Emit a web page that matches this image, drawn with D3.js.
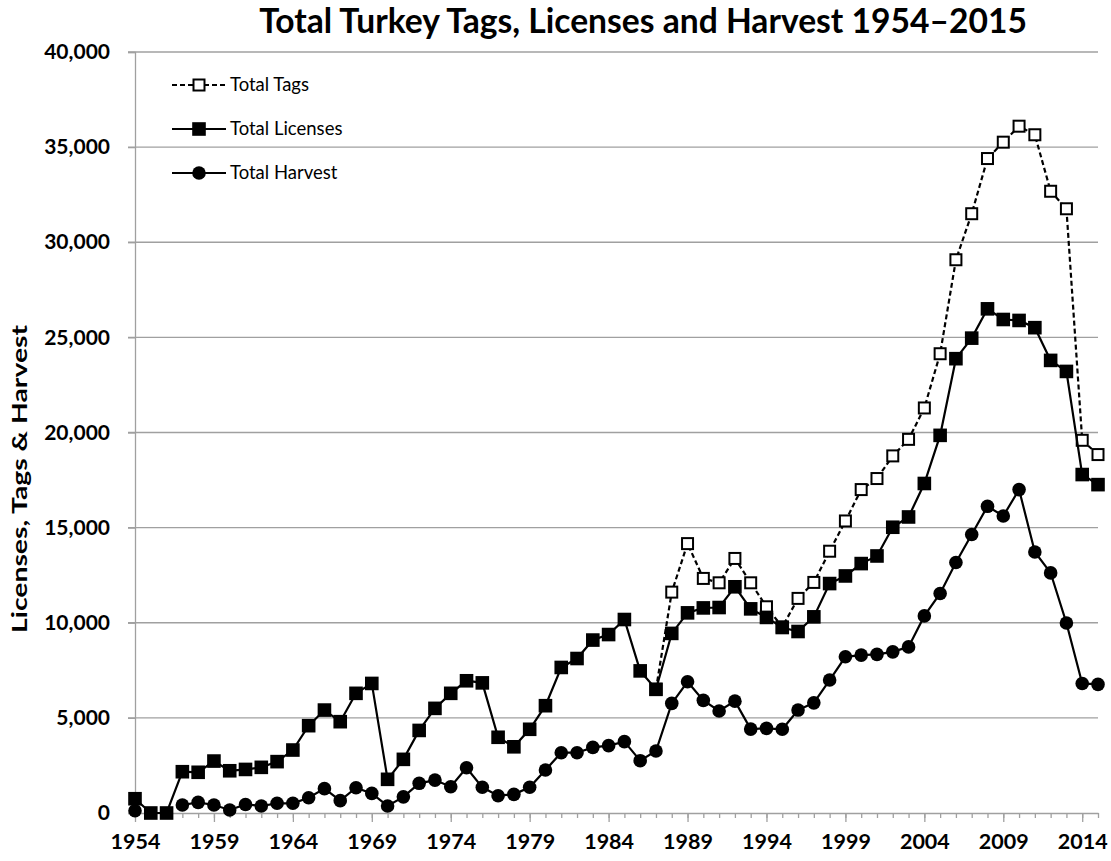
<!DOCTYPE html>
<html>
<head>
<meta charset="utf-8">
<script src="https://cdn.jsdelivr.net/npm/d3@7"></script>
<style>
  body { margin: 0; background: #fff; }
  text { font-family: Lato, "Open Sans", sans-serif; fill: #000; }
</style>
</head>
<body>
<div id="chart"></div>
<script>
const years = d3.range(1954, 2016);

const tags = [
  null, null, null, null, null, null, null, null, null, null,
  null, null, null, null, null, null, null, null, null, null,
  null, null, null, null, null, null, null, null, null, null,
  null, null, null, 6500, 11610, 14160, 12330, 12100, 13380, 12100,
  10840, 9780, 11280, 12120, 13760, 15350, 17000, 17580, 18770, 19640,
  21290, 24140, 29080, 31500, 34400, 35260, 36100, 35650, 32680, 31760,
  19590, 18840
];

const licenses = [
  750, 0, 0, 2170, 2140, 2730, 2220, 2290, 2400, 2700,
  3310, 4590, 5410, 4800, 6290, 6810, 1770, 2820, 4340, 5500,
  6290, 6950, 6840, 3980, 3480, 4400, 5640, 7650, 8120, 9090,
  9380, 10170, 7470, 6500, 9440, 10520, 10780, 10800, 11890, 10730,
  10280, 9750, 9540, 10310, 12060, 12460, 13110, 13510, 15020, 15560,
  17320, 19850, 23880, 24960, 26500, 25940, 25890, 25510, 23790, 23210,
  17790, 17260
];

const harvest = [
  120, null, null, 420, 560, 420, 160, 450, 370, 510,
  510, 800, 1280, 650, 1330, 1030, 370, 850, 1560, 1730,
  1380, 2380, 1350, 910, 980, 1350, 2260, 3170, 3170, 3450,
  3540, 3750, 2750, 3260, 5760, 6900, 5920, 5360, 5880, 4410,
  4450, 4400, 5410, 5790, 6990, 8210, 8300, 8340, 8470, 8730,
  10360, 11540, 13170, 14640, 16120, 15610, 17000, 13720, 12620, 9990,
  6810, 6760
];

const xTickLabels = [1954, 1959, 1964, 1969, 1974, 1979, 1984, 1989, 1994, 1999, 2004, 2009, 2014];
const yTicks = [0, 5000, 10000, 15000, 20000, 25000, 30000, 35000, 40000];

const series = [
  { name: "Total Tags", values: tags, marker: "open", dash: "5,3" },
  { name: "Total Licenses", values: licenses, marker: "square", dash: null },
  { name: "Total Harvest", values: harvest, marker: "circle", dash: null }
];

const W = 1111, H = 861;
const margin = { top: 52, right: 13, bottom: 48, left: 135 };
const width = W - margin.left - margin.right;
const height = H - margin.top - margin.bottom;

const root = d3.select("#chart").append("svg")
  .attr("width", W)
  .attr("height", H);

const svg = root.append("g")
  .attr("transform", `translate(${margin.left},${margin.top})`);

const x = d3.scaleLinear().domain([1954, 2015]).range([0, width]);
const y = d3.scaleLinear().domain([0, 40000]).range([height, 0]);

// gridlines
svg.append("g")
  .selectAll("line")
  .data(yTicks.filter(d => d > 0))
  .join("line")
  .attr("x1", -7).attr("x2", width)
  .attr("y1", d => y(d)).attr("y2", d => y(d))
  .attr("stroke", "#a0a0a0")
  .attr("stroke-width", 1.3);

// y axis
const yAxis = svg.append("g")
  .call(d3.axisLeft(y).tickValues(yTicks).tickSize(7).tickPadding(18).tickFormat(d3.format(",")));
yAxis.select(".domain").attr("stroke", "#a0a0a0").attr("stroke-width", 1.3);
yAxis.selectAll(".tick line").attr("stroke", "#a0a0a0").attr("stroke-width", 1.3);
yAxis.selectAll("text")
  .style("font-family", "Lato, sans-serif")
  .style("font-size", "21px")
  .style("font-weight", "bold")
  .attr("fill", "#000");

// x axis: minor ticks every year, major every 5
const xAxis = svg.append("g")
  .attr("transform", `translate(0,${height})`)
  .call(d3.axisBottom(x).tickValues(years).tickSize(5).tickSizeOuter(0).tickFormat(""));
xAxis.select(".domain").attr("stroke", "#a0a0a0").attr("stroke-width", 1.3);
xAxis.selectAll(".tick line").attr("stroke", "#a0a0a0").attr("stroke-width", 1.3);

const xMajor = svg.append("g")
  .attr("transform", `translate(0,${height})`)
  .call(d3.axisBottom(x).tickValues(xTickLabels).tickSize(9).tickPadding(12).tickFormat(d3.format("d")));
xMajor.select(".domain").remove();
xMajor.selectAll(".tick line").attr("stroke", "#a0a0a0").attr("stroke-width", 1.3);
xMajor.selectAll("text")
  .style("font-family", "Lato, sans-serif")
  .style("font-size", "21.5px")
  .style("font-weight", "bold")
  .attr("fill", "#000");

// lines
const line = d3.line()
  .defined(d => d.v !== null)
  .x(d => x(d.year))
  .y(d => y(d.v));

function drawMarker(g, type) {
  if (type === "circle") {
    g.append("circle").attr("r", 6.8).attr("fill", "#000");
  } else if (type === "square") {
    g.append("rect").attr("x", -6.8).attr("y", -6.8).attr("width", 13.6).attr("height", 13.6).attr("fill", "#000");
  } else {
    g.append("rect").attr("x", -5.5).attr("y", -5.5).attr("width", 11).attr("height", 11)
      .attr("fill", "#fff").attr("stroke", "#000").attr("stroke-width", 2);
  }
}

series.forEach(s => {
  const pts = years.map((yr, i) => ({ year: yr, v: s.values[i] }));
  svg.append("path")
    .datum(pts)
    .attr("fill", "none")
    .attr("stroke", "#000")
    .attr("stroke-width", 2.2)
    .attr("stroke-dasharray", s.dash)
    .attr("d", line);
  svg.append("g")
    .selectAll("g")
    .data(pts.filter(d => d.v !== null))
    .join("g")
    .attr("transform", d => `translate(${x(d.year)},${y(d.v)})`)
    .each(function () { drawMarker(d3.select(this), s.marker); });
});

// legend
const legend = root.append("g").attr("transform", "translate(172,85)");
series.forEach((s, i) => {
  const g = legend.append("g").attr("transform", `translate(0,${i * 44})`);
  g.append("line")
    .attr("x1", 0).attr("x2", 54)
    .attr("stroke", "#000")
    .attr("stroke-width", 2)
    .attr("stroke-dasharray", s.dash);
  drawMarker(g.append("g").attr("transform", "translate(27,0)"), s.marker);
  g.append("text")
    .attr("x", 58)
    .attr("dy", "0.35em")
    .style("font-size", "18.5px")
    .text(s.name);
});

// title
const title = root.append("text")
  .attr("x", 643)
  .attr("y", 33)
  .attr("text-anchor", "middle")
  .style("font-size", "33px")
  .style("font-weight", "bold")
  .text("Total Turkey Tags, Licenses and Harvest 1954–2015");
const tw = title.node().getComputedTextLength();
title.style("font-size", (33 * 768 / tw) + "px");

// y axis label
root.append("text")
  .attr("transform", "translate(27,479) rotate(-90)")
  .attr("text-anchor", "middle")
  .attr("textLength", 308)
  .attr("lengthAdjust", "spacingAndGlyphs")
  .style("font-size", "21px")
  .style("font-weight", "bold")
  .text("Licenses, Tags & Harvest");
</script>
</body>
</html>
